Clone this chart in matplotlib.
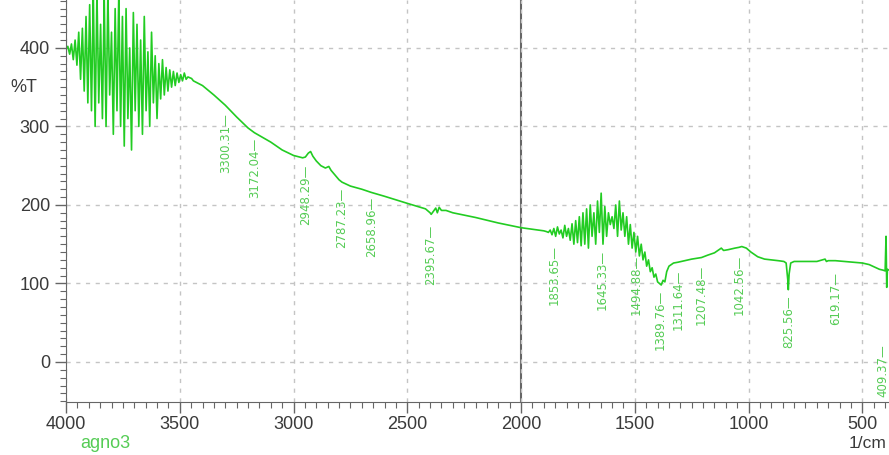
import numpy as np
import matplotlib
matplotlib.use("Agg")
import matplotlib.pyplot as plt
from matplotlib.ticker import MultipleLocator

# FTIR spectrum of agno3, %T vs wavenumber
wn_noisy1 = [4000, 3992, 3984, 3976, 3968, 3960, 3952, 3944, 3936, 3928, 3920, 3912,
             3904, 3896, 3888, 3880, 3872, 3864, 3856, 3848, 3840, 3832, 3824, 3816,
             3808, 3800, 3792, 3784, 3776, 3768, 3760, 3752, 3744, 3736, 3728, 3720,
             3712, 3704, 3696, 3688, 3680, 3672, 3664, 3656, 3648, 3640, 3632, 3624,
             3616, 3608, 3600, 3592, 3584, 3576, 3568, 3560, 3552, 3544, 3536, 3528,
             3520, 3512, 3504, 3496, 3488, 3480, 3472, 3464, 3456, 3448, 3440]
t_noisy1 = [398, 402, 392, 405, 385, 410, 378, 420, 360, 425, 345, 440,
            330, 455, 320, 470, 300, 470, 330, 430, 310, 465, 300, 470,
            340, 420, 290, 450, 320, 470, 300, 440, 275, 450, 310, 400,
            270, 445, 320, 430, 300, 410, 290, 440, 320, 395, 300, 420,
            330, 390, 310, 380, 335, 385, 340, 375, 345, 372, 350, 370,
            352, 368, 356, 366, 358, 368, 360, 363, 362, 361, 358]

wn_smooth1 = [3400, 3350, 3300, 3250, 3200, 3172, 3100, 3050, 3000, 2960, 2948, 2935,
              2925, 2915, 2900, 2880, 2860, 2845, 2835, 2800, 2787, 2750, 2700, 2659,
              2600, 2500, 2420, 2400, 2395, 2385, 2375, 2368, 2360, 2350, 2330, 2300,
              2200, 2100, 2000, 1950, 1900, 1888]
t_smooth1 = [352, 340, 327, 312, 298, 292, 280, 270, 263, 260, 261, 266,
             268, 262, 256, 250, 247, 249, 244, 232, 229, 224, 220, 216,
             211, 202, 195, 190, 188, 192, 196, 190, 197, 193, 193, 190,
             184, 177, 171, 169, 167, 166]

wn_noisy2 = [1880, 1872, 1864, 1856, 1848, 1840, 1832, 1824, 1816, 1808, 1800, 1792,
             1784, 1776, 1768, 1760, 1752, 1744, 1736, 1728, 1720, 1712, 1704, 1696,
             1688, 1680, 1672, 1664, 1656, 1648, 1640, 1632, 1624, 1616, 1608, 1600,
             1592, 1584, 1576, 1568, 1560, 1552, 1544, 1536, 1528, 1520, 1512, 1504,
             1496, 1488, 1480, 1472, 1464, 1456, 1448, 1440, 1432, 1424, 1416, 1408,
             1400, 1392, 1384, 1376, 1368, 1360]
t_noisy2 = [165, 168, 162, 170, 160, 172, 163, 168, 158, 174, 160, 170,
            155, 176, 150, 180, 152, 185, 148, 190, 150, 195, 145, 200,
            160, 190, 150, 205, 165, 215, 150, 198, 160, 190, 175, 185,
            170, 200, 160, 205, 168, 190, 160, 185, 150, 175, 145, 165,
            140, 160, 135, 150, 130, 140, 122, 130, 115, 120, 108, 112,
            102, 100, 98, 104, 102, 115]

wn_smooth2 = [1350, 1330, 1311, 1280, 1250, 1207, 1180, 1150, 1130, 1120, 1110, 1090,
              1060, 1042, 1030, 1010, 990, 960, 930, 900, 870, 845, 835, 828,
              825.5, 822, 815, 800, 750, 700, 664, 658, 650, 619, 580, 540,
              500, 470, 440, 425, 410, 400, 396, 393, 390, 383]
t_smooth2 = [122, 126, 127, 129, 131, 133, 136, 139, 143, 145, 142, 143,
             145, 146, 147, 145, 140, 134, 131, 130, 129, 128, 126, 105,
             92, 112, 126, 128, 128, 128, 131, 128, 129, 129, 128, 127,
             126, 124, 120, 118, 117, 116, 160, 95, 118, 117]

peak_pos = [3300.31, 3172.04, 2948.29, 2787.23, 2658.96, 2395.67, 1853.65, 1645.33,
            1494.88, 1389.76, 1311.64, 1207.48, 1042.56, 825.56, 619.17, 409.37]
peak_t = [325, 293, 259, 230, 218, 183, 157, 151,
          144, 100, 125, 132, 144, 93, 123, 30]

wn = np.array(wn_noisy1 + wn_smooth1 + wn_noisy2 + wn_smooth2)
trans = np.array(t_noisy1 + t_smooth1 + t_noisy2 + t_smooth2)

plt.rcParams['font.family'] = ['Liberation Sans', 'DejaVu Sans']

fig = plt.figure(figsize=(8.89, 4.55), dpi=100)
ax = fig.add_axes([66 / 889, 53 / 455, 823 / 889, 402 / 455])

ax.plot(wn, trans, color='#22cc22', lw=1.2)

for p, t in zip(peak_pos, peak_t):
    ax.text(p, t - 8, f"{p:.2f}\u2014", rotation=90, ha='center', va='top',
            fontsize=8.5, color='#55cc55', family=['Liberation Sans Narrow', 'DejaVu Sans'],
            clip_on=True)

ax.axvline(2000, color='#666666', lw=1.5, zorder=1)

ax.set_xlim(4000, 383)
ax.set_ylim(-51, 461)
ax.xaxis.set_major_locator(MultipleLocator(500))
ax.xaxis.set_minor_locator(MultipleLocator(50))
ax.yaxis.set_major_locator(MultipleLocator(100))
ax.yaxis.set_minor_locator(MultipleLocator(10))
ax.set_yticks([0, 100, 200, 300, 400])
ax.grid(True, which='major', color='#c4c4c4', lw=1, linestyle=(0, (3, 4)))
ax.tick_params(which='major', length=8, width=1, color='#666666', labelsize=13,
               labelcolor='#3a3a3a')
ax.tick_params(axis='x', which='major', pad=2)
ax.tick_params(which='minor', length=4, width=0.8, color='#666666')

for s in ['top', 'right']:
    ax.spines[s].set_visible(False)
for s in ['left', 'bottom']:
    ax.spines[s].set_color('#666666')

fig.text(24 / 889, 1 - 87 / 455, "%T", fontsize=13, color='#3a3a3a', ha='center', va='center')
fig.text(105 / 889, 1 - 443 / 455, "agno3", fontsize=13, color='#55cc55', ha='center', va='center')
fig.text(886 / 889, 1 - 444 / 455, "1/cm", fontsize=12.5, color='#3a3a3a', ha='right', va='center')

fig.savefig("out.png", dpi=100)
